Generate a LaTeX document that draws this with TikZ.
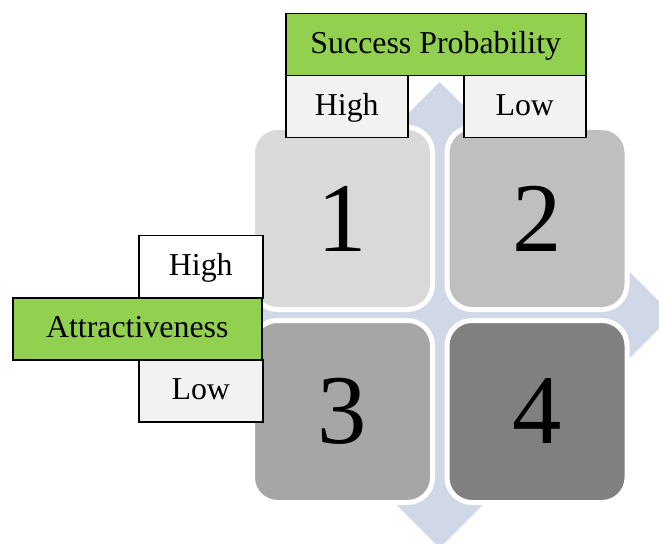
\documentclass[tikz,border=0pt]{standalone}
\usepackage{fontspec}
\setmainfont{Liberation Serif}
\definecolor{crossblue}{RGB}{208,215,231}
\definecolor{boxgreen}{RGB}{146,208,80}
\definecolor{boxgrey}{RGB}{242,242,242}
\definecolor{fieldone}{RGB}{217,217,217}
\definecolor{fieldtwo}{RGB}{191,191,191}
\definecolor{fieldthree}{RGB}{166,166,166}
\definecolor{fieldfour}{RGB}{128,128,128}
\tikzset{
  lbl/.style={draw=black, line width=1.5bp, inner sep=0pt, anchor=north west,
    minimum height=62bp, text height=22bp, text depth=4bp,
    font=\fontsize{32}{38}\selectfont},
  field/.style={draw=white, line width=5bp, rounded corners=25bp,
    minimum width=180bp, minimum height=182bp,
    font=\fontsize{99}{100}\selectfont}
}
\begin{document}
\begin{tikzpicture}[x=1bp,y=-1bp]
  \useasboundingbox (0,0) rectangle (659,544);
  \clip (0,0) rectangle (659,544);
  % four-way arrow behind the matrix
  \fill [crossblue] (439.5,82) -- (534.5,177) -- (469.5,177) -- (469.5,285)
    -- (577.5,285) -- (577.5,220) -- (672.5,315) -- (577.5,410) -- (577.5,345)
    -- (469.5,345) -- (469.5,453) -- (534.5,453) -- (439.5,548) -- (344.5,453)
    -- (409.5,453) -- (409.5,345) -- (301.5,345) -- (301.5,410) -- (206.5,315)
    -- (301.5,220) -- (301.5,285) -- (409.5,285) -- (409.5,177) -- (344.5,177)
    -- cycle;
  % the four fields
  \node [field, fill=fieldone] (q1) at (342.5,218.5) {1};
  \node [field, fill=fieldtwo] (q2) at (537,218.5) {2};
  \node [field, fill=fieldthree] (q3) at (342.5,411.5) {3};
  \node [field, fill=fieldfour] (q4) at (537,411.5) {4};
  % success probability (top)
  \node [lbl, fill=boxgreen, minimum width=300bp] (sp) at (285,13) {Success Probability};
  \node [lbl, fill=boxgrey, minimum width=122bp] (sphigh) at (285,75) {High};
  \node [lbl, fill=boxgrey, minimum width=122bp] (splow) at (463,75) {Low};
  % attractiveness (left)
  \node [lbl, fill=white, minimum width=124bp] (atthigh) at (138,235) {High};
  \node [lbl, fill=boxgrey, minimum width=124bp] (attlow) at (138,359) {Low};
  \node [lbl, fill=boxgreen, minimum width=249bp] (att) at (12,297) {Attractiveness};
\end{tikzpicture}
\end{document}
